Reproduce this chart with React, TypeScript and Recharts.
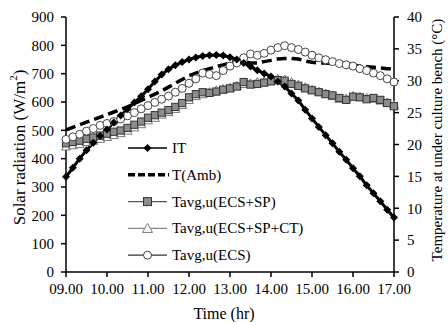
import React from 'react'
import { LineChart, Line, XAxis, YAxis, Legend } from 'recharts'

// 10 minute readings, 09.00 - 17.00
const times = [
  '09.00', '09.10', '09.20', '09.30', '09.40', '09.50',
  '10.00', '10.10', '10.20', '10.30', '10.40', '10.50',
  '11.00', '11.10', '11.20', '11.30', '11.40', '11.50',
  '12.00', '12.10', '12.20', '12.30', '12.40', '12.50',
  '13.00', '13.10', '13.20', '13.30', '13.40', '13.50',
  '14.00', '14.10', '14.20', '14.30', '14.40', '14.50',
  '15.00', '15.10', '15.20', '15.30', '15.40', '15.50',
  '16.00', '16.10', '16.20', '16.30', '16.40', '16.50',
  '17.00',
]

// solar radiation, W/m2
const it = [
  336, 368, 400, 430, 456, 480,
  503, 528, 552, 575, 598, 620,
  645, 672, 697, 716, 730, 741,
  750, 757, 762, 765, 766, 764,
  758, 750, 738, 725, 712, 701,
  690, 672, 655, 630, 605, 573,
  542, 512, 483, 454, 424, 396,
  366, 338, 306, 278, 250, 220,
  192,
]

// temperatures, deg C
const tAmb = [
  22.3, 22.7, 23.1, 23.5, 23.9, 24.3,
  24.7, 25.1, 25.5, 25.9, 26.4, 26.9,
  27.4, 27.9, 28.4, 29.0, 29.6, 30.2,
  30.8, 31.2, 31.6, 31.9, 32.2, 32.5,
  32.8, 33.1, 33.0, 32.8, 32.8, 33.0,
  33.2, 33.4, 33.5, 33.5, 33.4, 33.1,
  32.9, 32.8, 32.8, 32.7, 32.6, 32.5,
  32.4, 32.3, 32.2, 32.1, 32.0, 31.9,
  31.9,
]

const tSP = [
  20.2, 20.4, 20.6, 20.9, 21.1, 21.4,
  21.7, 22.0, 22.2, 22.6, 23.1, 23.6,
  24.2, 24.6, 25.0, 25.4, 25.9, 26.5,
  27.4, 27.9, 28.2, 28.1, 28.3, 28.6,
  28.8, 29.1, 29.8, 29.4, 29.5, 29.7,
  29.9, 30.1, 30.0, 29.5, 29.2, 28.8,
  28.5, 28.2, 27.9, 27.7, 27.3, 27.0,
  27.5, 27.4, 27.1, 27.3, 27.0, 26.5,
  26.0,
]

const tSPCT = [
  19.7, 19.9, 20.1, 20.4, 20.6, 20.9,
  21.2, 21.5, 21.8, 22.2, 22.7, 23.2,
  23.8, 24.2, 24.7, 25.1, 25.6, 26.2,
  27.0, 27.6, 27.9, 28.2, 28.5, 28.7,
  28.9, 29.2, 29.5, 29.6, 29.8, 29.9,
  30.1, 30.3, 30.2, 29.8, 29.4, 29.0,
  28.6, 28.3, 28.0, 27.6, 27.2, 27.2,
  27.6, 27.5, 27.3, 27.2, 26.9, 26.6,
  26.2,
]

const tECS = [
  20.8, 21.2, 21.6, 22.1, 22.5, 23.0,
  23.3, 23.6, 24.0, 24.5, 25.0, 25.6,
  26.1, 26.6, 27.1, 27.6, 28.2, 28.8,
  29.6, 30.3, 31.2, 31.0, 30.8, 31.6,
  32.3, 32.8, 33.6, 34.2, 34.0, 34.3,
  34.8, 35.2, 35.5, 35.2, 34.9, 34.5,
  34.0, 33.6, 33.3, 33.0, 32.7, 32.5,
  32.3, 31.9, 31.6, 31.2, 30.8, 30.3,
  29.8,
]

const leftTicks = [0, 100, 200, 300, 400, 500, 600, 700, 800, 900]
const rightTicks = [0, 5, 10, 15, 20, 25, 30, 35, 40]

const data = times.map((t, i) => ({
  time: t,
  it: it[i],
  tAmb: tAmb[i],
  tSP: tSP[i],
  tSPCT: tSPCT[i],
  tECS: tECS[i],
}))

const FONT = '"Liberation Serif", "Times New Roman", serif'
const tickStyle = { fontSize: 15, fill: '#000', fontFamily: FONT }

const Diamond = ({ cx, cy, s = 4 }: any) => (
  <polygon points={`${cx},${cy - s} ${cx + s},${cy} ${cx},${cy + s} ${cx - s},${cy}`} fill="#000" />
)
const Square = ({ cx, cy, s = 3.6 }: any) => (
  <rect x={cx - s} y={cy - s} width={s * 2} height={s * 2} fill="#8c8c8c" stroke="#333" strokeWidth={1} />
)
const Triangle = ({ cx, cy, s = 4.5 }: any) => (
  <polygon points={`${cx},${cy - s} ${cx + s},${cy + s * 0.8} ${cx - s},${cy + s * 0.8}`} fill="#fff" stroke="#777" strokeWidth={1} />
)
const Circle = ({ cx, cy, r = 4 }: any) => (
  <circle cx={cx} cy={cy} r={r} fill="#fff" stroke="#444" strokeWidth={1} />
)

const dotOf = (Shape: any) => (p: any) =>
  p.cx == null || p.cy == null ? <g key={p.index} /> : <Shape key={p.index} cx={p.cx} cy={p.cy} />

const LeftTitle = ({ viewBox }: any) => {
  const cy = viewBox.y + viewBox.height / 2 + 3
  const cx = 19
  return (
    <text x={cx} y={cy} transform={`rotate(-90, ${cx}, ${cy})`} textAnchor="middle" dominantBaseline="central"
      fontFamily={FONT} fontSize={17} fill="#000">
      Solar radiation (W/m<tspan dy={-6} fontSize={11}>2</tspan><tspan dy={6}>)</tspan>
    </text>
  )
}

const RightTitle = () => {
  const cy = 140
  const cx = 437
  return (
    <text x={cx} y={cy} transform={`rotate(-90, ${cx}, ${cy})`} textAnchor="middle" dominantBaseline="central"
      fontFamily={FONT} fontSize={15} fill="#000">
      Temperature at under culture bench (°C)
    </text>
  )
}

const BottomTitle = ({ viewBox }: any) => (
  <text x={viewBox.x + viewBox.width / 2 - 6} y={313} textAnchor="middle" dominantBaseline="central"
    fontFamily={FONT} fontSize={16} fontWeight="normal" fill="#000">
    Time (hr)
  </text>
)

const legendRows = [
  { name: 'IT', kind: 'it' },
  { name: 'T(Amb)', kind: 'amb' },
  { name: 'Tavg,u(ECS+SP)', kind: 'sp' },
  { name: 'Tavg,u(ECS+SP+CT)', kind: 'spct' },
  { name: 'Tavg,u(ECS)', kind: 'ecs' },
]

const LegendBox = () => (
  <svg width={200} height={140}>
    {legendRows.map((r, i) => {
      const y = 12 + i * 26.8
      const x1 = 3
      const x2 = 42
      const mx = (x1 + x2) / 2
      let line: any
      let mark: any = null
      if (r.kind === 'it') {
        line = <line x1={x1} y1={y} x2={x2} y2={y} stroke="#000" strokeWidth={1.5} />
        mark = <Diamond cx={mx} cy={y} s={4} />
      } else if (r.kind === 'amb') {
        line = <line x1={x1} y1={y} x2={x2 + 2} y2={y} stroke="#000" strokeWidth={3.5} strokeDasharray="7 3" />
      } else if (r.kind === 'sp') {
        line = <line x1={x1} y1={y} x2={x2} y2={y} stroke="#555" strokeWidth={1.2} />
        mark = <Square cx={mx} cy={y} s={4} />
      } else if (r.kind === 'spct') {
        line = <line x1={x1} y1={y} x2={x2} y2={y} stroke="#888" strokeWidth={1.2} />
        mark = <Triangle cx={mx} cy={y} s={5} />
      } else {
        line = <line x1={x1} y1={y} x2={x2} y2={y} stroke="#333" strokeWidth={1.2} />
        mark = <Circle cx={mx} cy={y} r={4} />
      }
      return (
        <g key={r.name}>
          {line}
          {mark}
          <text x={47} y={y} dominantBaseline="central" fontFamily={FONT} fontSize={15} fill="#000">{r.name}</text>
        </g>
      )
    })}
  </svg>
)

export default function App() {
  return (
    <div style={{ position: 'absolute', left: 0, top: 0, width: 448, height: 322, background: '#fff' }}>
      <LineChart width={448} height={322} data={data} margin={{ top: 17, right: 0, bottom: 0, left: 0 }}>
        <XAxis
          dataKey="time"
          interval={5}
          height={50}
          stroke="#000"
          strokeWidth={1.5}
          tickSize={5}
          tickMargin={6}
          tick={tickStyle}
          label={<BottomTitle />}
        />
        <YAxis
          yAxisId="left"
          width={66}
          domain={[0, 900]}
          ticks={leftTicks}
          stroke="#000"
          strokeWidth={1.5}
          tickSize={5}
          tickMargin={7}
          tick={tickStyle}
          label={<LeftTitle />}
        />
        <YAxis
          yAxisId="right"
          orientation="right"
          width={54}
          domain={[0, 40]}
          ticks={rightTicks}
          stroke="#000"
          strokeWidth={1.5}
          tickSize={5}
          tickMargin={8}
          tick={tickStyle}
          label={<RightTitle />}
        />
        <Legend
          layout="vertical"
          align="center"
          verticalAlign="middle"
          wrapperStyle={{ left: 125, top: 136, width: 200, height: 140 }}
          content={() => <LegendBox />}
        />
        <Line yAxisId="right" dataKey="tSPCT" stroke="#999" strokeWidth={1} dot={dotOf(Triangle)} isAnimationActive={false} />
        <Line yAxisId="right" dataKey="tSP" stroke="#555" strokeWidth={1} dot={dotOf(Square)} isAnimationActive={false} />
        <Line yAxisId="right" dataKey="tECS" stroke="#444" strokeWidth={1} dot={dotOf(Circle)} isAnimationActive={false} />
        <Line yAxisId="right" dataKey="tAmb" stroke="#000" strokeWidth={3.5} strokeDasharray="10 5" dot={false} isAnimationActive={false} />
        <Line yAxisId="left" dataKey="it" stroke="#000" strokeWidth={3} dot={dotOf(Diamond)} isAnimationActive={false} />
      </LineChart>
    </div>
  )
}
